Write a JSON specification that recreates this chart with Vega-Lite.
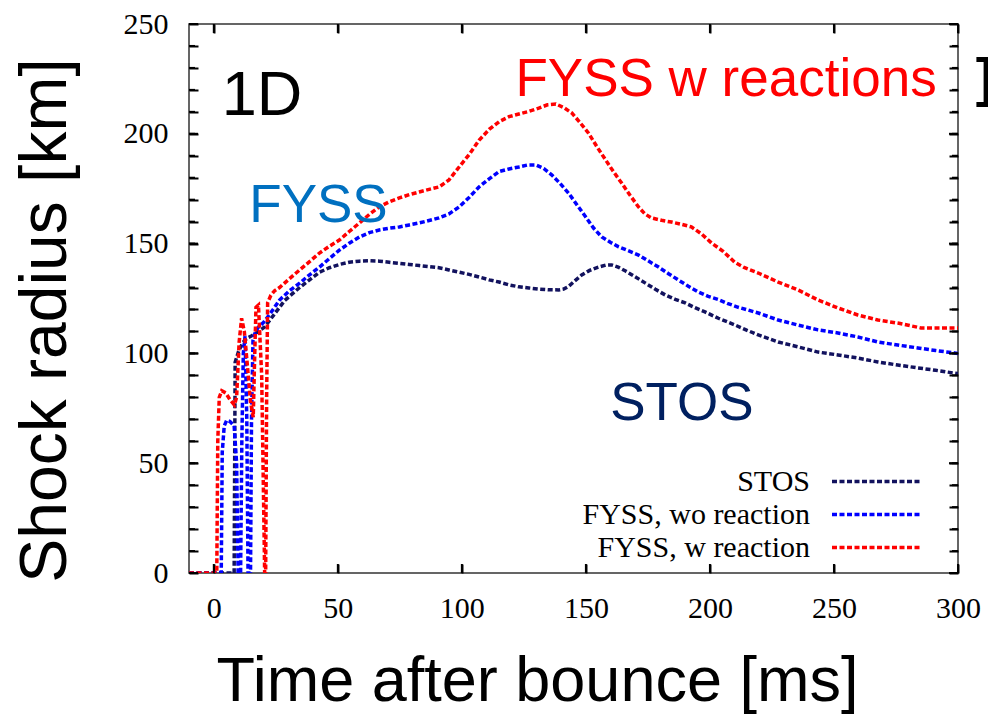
{
  "$schema": "https://vega.github.io/schema/vega-lite/v6.json",
  "width": 769,
  "height": 549,
  "autosize": {"type": "none"},
  "padding": {"left": 189, "top": 24, "right": 30, "bottom": 153},
  "background": "white",
  "config": {
    "view": {"stroke": "#333333", "strokeWidth": 1.5},
    "axis": {"domain": false, "grid": false, "ticks": true, "tickColor": "#000000", "tickWidth": 2, "labelFont": "Liberation Serif", "labelFontSize": 30, "labelColor": "#000000", "titleFont": "Liberation Sans", "titleFontWeight": "normal", "titleColor": "#000000", "zindex": 1}
  },
  "datasets": {
    "yt": [{"v":0},{"v":10},{"v":20},{"v":30},{"v":40},{"v":50},{"v":60},{"v":70},{"v":80},{"v":90},{"v":100},{"v":110},{"v":120},{"v":130},{"v":140},{"v":150},{"v":160},{"v":170},{"v":180},{"v":190},{"v":200},{"v":210},{"v":220},{"v":230},{"v":240},{"v":250}],
    "ymaj": [{"v":0},{"v":50},{"v":100},{"v":150},{"v":200},{"v":250}],
    "xmaj": [{"v":0},{"v":50},{"v":100},{"v":150},{"v":200},{"v":250},{"v":300}]
  },
  "resolve": {"axis": {"x": "independent", "y": "independent"}},
  "layer": [
    {
      "data": {"values": [
        {"s":"STOS","t":-10,"r":0},{"s":"STOS","t":8.2,"r":0},{"s":"STOS","t":8.6,"r":96},{"s":"STOS","t":10,"r":101},{"s":"STOS","t":11.7,"r":105},{"s":"STOS","t":13.5,"r":107},{"s":"STOS","t":15.3,"r":108},{"s":"STOS","t":18,"r":110},{"s":"STOS","t":20.5,"r":112},{"s":"STOS","t":22.5,"r":115},{"s":"STOS","t":24.5,"r":118},{"s":"STOS","t":26.5,"r":121},{"s":"STOS","t":28.5,"r":124},{"s":"STOS","t":30.5,"r":126},{"s":"STOS","t":34.6,"r":130},{"s":"STOS","t":38.6,"r":133.5},{"s":"STOS","t":42.6,"r":137},{"s":"STOS","t":46.6,"r":139},{"s":"STOS","t":50.6,"r":140.5},{"s":"STOS","t":54.6,"r":141.5},{"s":"STOS","t":58.7,"r":142},{"s":"STOS","t":62.7,"r":142.2},{"s":"STOS","t":66.7,"r":142},{"s":"STOS","t":70.7,"r":141.5},{"s":"STOS","t":74.8,"r":141},{"s":"STOS","t":78.8,"r":140.5},{"s":"STOS","t":82.8,"r":140},{"s":"STOS","t":86.8,"r":139.5},{"s":"STOS","t":90.8,"r":139},{"s":"STOS","t":94.8,"r":138},{"s":"STOS","t":98.9,"r":137},{"s":"STOS","t":102.9,"r":136},{"s":"STOS","t":106.9,"r":134.8},{"s":"STOS","t":111,"r":133.5},{"s":"STOS","t":115,"r":132.5},{"s":"STOS","t":119,"r":131.2},{"s":"STOS","t":123,"r":130.3},{"s":"STOS","t":127,"r":129.8},{"s":"STOS","t":131,"r":129.3},{"s":"STOS","t":135,"r":129},{"s":"STOS","t":139,"r":128.9},{"s":"STOS","t":141,"r":129.3},{"s":"STOS","t":143,"r":130.5},{"s":"STOS","t":145.5,"r":133},{"s":"STOS","t":148.3,"r":135.7},{"s":"STOS","t":151.5,"r":137.8},{"s":"STOS","t":155,"r":139.3},{"s":"STOS","t":158,"r":140.2},{"s":"STOS","t":160.4,"r":140.3},{"s":"STOS","t":163,"r":139.3},{"s":"STOS","t":166,"r":137.5},{"s":"STOS","t":170,"r":134.8},{"s":"STOS","t":174,"r":132},{"s":"STOS","t":178,"r":129.2},{"s":"STOS","t":182,"r":126.6},{"s":"STOS","t":186,"r":124.6},{"s":"STOS","t":190,"r":123},{"s":"STOS","t":194,"r":120.8},{"s":"STOS","t":198,"r":118.9},{"s":"STOS","t":203.4,"r":116},{"s":"STOS","t":210,"r":113},{"s":"STOS","t":215,"r":110.5},{"s":"STOS","t":219.5,"r":108.4},{"s":"STOS","t":227.5,"r":105.2},{"s":"STOS","t":235.5,"r":103},{"s":"STOS","t":243.6,"r":100.6},{"s":"STOS","t":251.6,"r":99.3},{"s":"STOS","t":259.6,"r":97.9},{"s":"STOS","t":267.7,"r":96.1},{"s":"STOS","t":275.7,"r":94.7},{"s":"STOS","t":283.8,"r":93.4},{"s":"STOS","t":291,"r":92.3},{"s":"STOS","t":298.6,"r":91},{"s":"STOS","t":300,"r":90.8},
        {"s":"FYSS, wo reaction","t":-10,"r":0},{"s":"FYSS, wo reaction","t":3.0,"r":0},{"s":"FYSS, wo reaction","t":3.4,"r":55},{"s":"FYSS, wo reaction","t":4.2,"r":67},{"s":"FYSS, wo reaction","t":5.2,"r":69.5},{"s":"FYSS, wo reaction","t":6.5,"r":69},{"s":"FYSS, wo reaction","t":8.2,"r":67},{"s":"FYSS, wo reaction","t":9.2,"r":50},{"s":"FYSS, wo reaction","t":9.8,"r":0},{"s":"FYSS, wo reaction","t":10.8,"r":0},{"s":"FYSS, wo reaction","t":11.3,"r":60},{"s":"FYSS, wo reaction","t":11.9,"r":100},{"s":"FYSS, wo reaction","t":12.6,"r":108},{"s":"FYSS, wo reaction","t":13.3,"r":70},{"s":"FYSS, wo reaction","t":13.8,"r":0},{"s":"FYSS, wo reaction","t":14.8,"r":0},{"s":"FYSS, wo reaction","t":15.2,"r":70},{"s":"FYSS, wo reaction","t":15.8,"r":106},{"s":"FYSS, wo reaction","t":16.8,"r":110},{"s":"FYSS, wo reaction","t":18,"r":112},{"s":"FYSS, wo reaction","t":20,"r":114},{"s":"FYSS, wo reaction","t":22,"r":117},{"s":"FYSS, wo reaction","t":24.5,"r":121},{"s":"FYSS, wo reaction","t":26.5,"r":124.3},{"s":"FYSS, wo reaction","t":30.5,"r":128.5},{"s":"FYSS, wo reaction","t":34.6,"r":132},{"s":"FYSS, wo reaction","t":38.6,"r":135.8},{"s":"FYSS, wo reaction","t":42.6,"r":139.3},{"s":"FYSS, wo reaction","t":46.6,"r":143.2},{"s":"FYSS, wo reaction","t":50.6,"r":147},{"s":"FYSS, wo reaction","t":54.6,"r":150.2},{"s":"FYSS, wo reaction","t":58.7,"r":153},{"s":"FYSS, wo reaction","t":62.7,"r":155},{"s":"FYSS, wo reaction","t":66.7,"r":156.2},{"s":"FYSS, wo reaction","t":70.7,"r":157},{"s":"FYSS, wo reaction","t":74.8,"r":157.6},{"s":"FYSS, wo reaction","t":78.8,"r":158.5},{"s":"FYSS, wo reaction","t":82.8,"r":159.4},{"s":"FYSS, wo reaction","t":86.8,"r":160.5},{"s":"FYSS, wo reaction","t":90.8,"r":161.7},{"s":"FYSS, wo reaction","t":94.8,"r":163.5},{"s":"FYSS, wo reaction","t":98.9,"r":166.7},{"s":"FYSS, wo reaction","t":102.9,"r":171},{"s":"FYSS, wo reaction","t":106.9,"r":175.8},{"s":"FYSS, wo reaction","t":111,"r":179.5},{"s":"FYSS, wo reaction","t":115,"r":182.8},{"s":"FYSS, wo reaction","t":119,"r":184},{"s":"FYSS, wo reaction","t":123,"r":184.9},{"s":"FYSS, wo reaction","t":126.5,"r":185.8},{"s":"FYSS, wo reaction","t":129.8,"r":185.8},{"s":"FYSS, wo reaction","t":133,"r":184.2},{"s":"FYSS, wo reaction","t":136.3,"r":181.2},{"s":"FYSS, wo reaction","t":139.5,"r":177.5},{"s":"FYSS, wo reaction","t":143,"r":173},{"s":"FYSS, wo reaction","t":146.5,"r":167.5},{"s":"FYSS, wo reaction","t":150,"r":162},{"s":"FYSS, wo reaction","t":153,"r":157.2},{"s":"FYSS, wo reaction","t":156.4,"r":153},{"s":"FYSS, wo reaction","t":160,"r":150.5},{"s":"FYSS, wo reaction","t":163.2,"r":148.5},{"s":"FYSS, wo reaction","t":167,"r":146.8},{"s":"FYSS, wo reaction","t":171.2,"r":144.8},{"s":"FYSS, wo reaction","t":175,"r":142.2},{"s":"FYSS, wo reaction","t":179.3,"r":139.3},{"s":"FYSS, wo reaction","t":183.3,"r":136.3},{"s":"FYSS, wo reaction","t":187.3,"r":133.4},{"s":"FYSS, wo reaction","t":191.3,"r":130.6},{"s":"FYSS, wo reaction","t":195.3,"r":128},{"s":"FYSS, wo reaction","t":199.3,"r":126},{"s":"FYSS, wo reaction","t":203.4,"r":124.5},{"s":"FYSS, wo reaction","t":207,"r":122.8},{"s":"FYSS, wo reaction","t":211.4,"r":121},{"s":"FYSS, wo reaction","t":215.5,"r":119.7},{"s":"FYSS, wo reaction","t":219.5,"r":118.4},{"s":"FYSS, wo reaction","t":227.5,"r":115.2},{"s":"FYSS, wo reaction","t":235.5,"r":112.9},{"s":"FYSS, wo reaction","t":243.6,"r":110.7},{"s":"FYSS, wo reaction","t":251.6,"r":109.3},{"s":"FYSS, wo reaction","t":259.6,"r":107.5},{"s":"FYSS, wo reaction","t":267.7,"r":105.2},{"s":"FYSS, wo reaction","t":275.7,"r":103.8},{"s":"FYSS, wo reaction","t":283.8,"r":102.5},{"s":"FYSS, wo reaction","t":291,"r":101.3},{"s":"FYSS, wo reaction","t":298.6,"r":100.2},{"s":"FYSS, wo reaction","t":300,"r":100},
        {"s":"FYSS, w  reaction","t":-10,"r":0},{"s":"FYSS, w  reaction","t":1.2,"r":0},{"s":"FYSS, w  reaction","t":1.6,"r":60},{"s":"FYSS, w  reaction","t":2.2,"r":80},{"s":"FYSS, w  reaction","t":3.2,"r":83},{"s":"FYSS, w  reaction","t":4.8,"r":82},{"s":"FYSS, w  reaction","t":6.5,"r":79},{"s":"FYSS, w  reaction","t":8.3,"r":76.5},{"s":"FYSS, w  reaction","t":9.2,"r":80},{"s":"FYSS, w  reaction","t":10.2,"r":105},{"s":"FYSS, w  reaction","t":11.2,"r":116},{"s":"FYSS, w  reaction","t":12.3,"r":110},{"s":"FYSS, w  reaction","t":13.5,"r":95},{"s":"FYSS, w  reaction","t":14.8,"r":78},{"s":"FYSS, w  reaction","t":15.9,"r":71},{"s":"FYSS, w  reaction","t":16.4,"r":95},{"s":"FYSS, w  reaction","t":17.0,"r":121},{"s":"FYSS, w  reaction","t":18.0,"r":122},{"s":"FYSS, w  reaction","t":19.3,"r":90},{"s":"FYSS, w  reaction","t":20.1,"r":30},{"s":"FYSS, w  reaction","t":20.5,"r":0},{"s":"FYSS, w  reaction","t":20.9,"r":0},{"s":"FYSS, w  reaction","t":21.3,"r":80},{"s":"FYSS, w  reaction","t":21.7,"r":123},{"s":"FYSS, w  reaction","t":23,"r":126.5},{"s":"FYSS, w  reaction","t":24.5,"r":128.5},{"s":"FYSS, w  reaction","t":26.5,"r":130},{"s":"FYSS, w  reaction","t":30.5,"r":134},{"s":"FYSS, w  reaction","t":34.6,"r":138},{"s":"FYSS, w  reaction","t":38.6,"r":141.8},{"s":"FYSS, w  reaction","t":42.6,"r":145.7},{"s":"FYSS, w  reaction","t":46.6,"r":148.8},{"s":"FYSS, w  reaction","t":50.6,"r":151.6},{"s":"FYSS, w  reaction","t":54.6,"r":155.5},{"s":"FYSS, w  reaction","t":58.7,"r":159.4},{"s":"FYSS, w  reaction","t":62.7,"r":163.3},{"s":"FYSS, w  reaction","t":66.7,"r":166.7},{"s":"FYSS, w  reaction","t":70.7,"r":169},{"s":"FYSS, w  reaction","t":74.8,"r":170.8},{"s":"FYSS, w  reaction","t":78.8,"r":172.3},{"s":"FYSS, w  reaction","t":82.8,"r":173.5},{"s":"FYSS, w  reaction","t":86.8,"r":174.7},{"s":"FYSS, w  reaction","t":90.8,"r":175.8},{"s":"FYSS, w  reaction","t":94.8,"r":179},{"s":"FYSS, w  reaction","t":98.9,"r":184.9},{"s":"FYSS, w  reaction","t":102.9,"r":190.5},{"s":"FYSS, w  reaction","t":106.9,"r":197},{"s":"FYSS, w  reaction","t":111,"r":202},{"s":"FYSS, w  reaction","t":115,"r":205.5},{"s":"FYSS, w  reaction","t":119,"r":207.8},{"s":"FYSS, w  reaction","t":123,"r":209},{"s":"FYSS, w  reaction","t":127,"r":210.2},{"s":"FYSS, w  reaction","t":131,"r":211.7},{"s":"FYSS, w  reaction","t":134.5,"r":213.2},{"s":"FYSS, w  reaction","t":137.9,"r":213.6},{"s":"FYSS, w  reaction","t":141,"r":212},{"s":"FYSS, w  reaction","t":144.3,"r":209.5},{"s":"FYSS, w  reaction","t":147.5,"r":205.3},{"s":"FYSS, w  reaction","t":151,"r":200.4},{"s":"FYSS, w  reaction","t":154.5,"r":194},{"s":"FYSS, w  reaction","t":158,"r":188},{"s":"FYSS, w  reaction","t":161.2,"r":182.6},{"s":"FYSS, w  reaction","t":164.4,"r":177.6},{"s":"FYSS, w  reaction","t":167.8,"r":172},{"s":"FYSS, w  reaction","t":171.2,"r":166.7},{"s":"FYSS, w  reaction","t":173.8,"r":163.5},{"s":"FYSS, w  reaction","t":176.4,"r":161.7},{"s":"FYSS, w  reaction","t":180.5,"r":160.6},{"s":"FYSS, w  reaction","t":184.5,"r":159.8},{"s":"FYSS, w  reaction","t":188.5,"r":158.8},{"s":"FYSS, w  reaction","t":192.5,"r":157.6},{"s":"FYSS, w  reaction","t":196.5,"r":154.5},{"s":"FYSS, w  reaction","t":200.6,"r":150.3},{"s":"FYSS, w  reaction","t":205.3,"r":146.5},{"s":"FYSS, w  reaction","t":210,"r":141.5},{"s":"FYSS, w  reaction","t":214,"r":139},{"s":"FYSS, w  reaction","t":219.5,"r":136.6},{"s":"FYSS, w  reaction","t":227.5,"r":132.5},{"s":"FYSS, w  reaction","t":235.5,"r":128.9},{"s":"FYSS, w  reaction","t":243.6,"r":124.3},{"s":"FYSS, w  reaction","t":251.6,"r":120.7},{"s":"FYSS, w  reaction","t":259.6,"r":117.5},{"s":"FYSS, w  reaction","t":267.7,"r":115.2},{"s":"FYSS, w  reaction","t":275.7,"r":113.8},{"s":"FYSS, w  reaction","t":280,"r":112.8},{"s":"FYSS, w  reaction","t":285,"r":111.6},{"s":"FYSS, w  reaction","t":292,"r":111.6},{"s":"FYSS, w  reaction","t":300,"r":111.6}
      ]},
      "mark": {"type": "line", "strokeWidth": 3.5, "strokeDash": [5, 2.5], "clip": true},
      "encoding": {
        "x": {"field": "t", "type": "quantitative", "scale": {"domain": [-10, 300], "nice": false, "zero": false},
          "axis": {"orient": "bottom", "offset": -9, "values": [0, 50, 100, 150, 200, 250, 300], "tickSize": 9, "labelPadding": 20, "labelBaseline": "top", "labelFlush": false,
            "title": "Time after bounce [ms]", "titleFontSize": 63, "titleX": 348, "titleY": 136, "titleBaseline": "alphabetic", "titleAlign": "center"}},
        "y": {"field": "r", "type": "quantitative", "scale": {"domain": [0, 250], "nice": false},
          "axis": {"orient": "left", "offset": -9, "values": [0,10,20,30,40,50,60,70,80,90,100,110,120,130,140,150,160,170,180,190,200,210,220,230,240,250], "tickSize": 9, "labelPadding": 21, "labelFlush": false,
            "labelExpr": "datum.value % 50 === 0 ? datum.label : ''",
            "title": "Shock radius [km]", "titleFontSize": 66, "titleAngle": 270, "titleX": -153, "titleY": 296, "titleBaseline": "middle", "titleAlign": "center",
            "encode": {"ticks": {"update": {"x": {"value": -9}, "x2": {"signal": "datum.value % 50 === 0 ? 0 : -3"}}}}}},
        "color": {"field": "s", "type": "nominal",
          "scale": {"domain": ["STOS", "FYSS, wo reaction", "FYSS, w  reaction"], "range": ["#12125e", "#0000ff", "#ff0000"]},
          "legend": {"orient": "none", "legendX": 643, "legendY": 441, "title": null, "padding": 0, "symbolType": "stroke", "symbolSize": 400, "symbolStrokeWidth": 3.5, "symbolDash": [5, 2.5], "labelFont": "Liberation Serif", "labelFontSize": 30, "labelColor": "#000000", "rowPadding": 0, "clipHeight": 33, "labelLimit": 500,
            "encode": {
              "entries": {"update": {"width": {"value": 92}, "height": {"value": 33}}},
              "symbols": {"update": {"size": {"value": 7744}, "x": {"value": 44}}},
              "labels": {"update": {"x": {"value": -22}, "align": {"value": "right"}}}}}}
      }
    },
    {
      "data": {"name": "yt"},
      "mark": {"type": "rule", "color": "#000000", "strokeWidth": 2},
      "encoding": {
        "y": {"field": "v", "type": "quantitative", "axis": null},
        "x": {"datum": -10, "type": "quantitative", "axis": null},
        "x2": {"datum": -7.58}
      }
    },
    {
      "data": {"name": "ymaj"},
      "mark": {"type": "rule", "color": "#000000", "strokeWidth": 2},
      "encoding": {
        "y": {"field": "v", "type": "quantitative", "axis": null},
        "x": {"datum": -10, "type": "quantitative", "axis": null},
        "x2": {"datum": -6.37}
      }
    },
    {
      "data": {"name": "yt"},
      "mark": {"type": "rule", "color": "#000000", "strokeWidth": 2},
      "encoding": {
        "y": {"field": "v", "type": "quantitative", "axis": null},
        "x": {"datum": 300, "type": "quantitative", "axis": null},
        "x2": {"datum": 297.58}
      }
    },
    {
      "data": {"name": "ymaj"},
      "mark": {"type": "rule", "color": "#000000", "strokeWidth": 2},
      "encoding": {
        "y": {"field": "v", "type": "quantitative", "axis": null},
        "x": {"datum": 300, "type": "quantitative", "axis": null},
        "x2": {"datum": 296.37}
      }
    },
    {
      "data": {"name": "xmaj"},
      "mark": {"type": "rule", "color": "#000000", "strokeWidth": 2},
      "encoding": {
        "x": {"field": "v", "type": "quantitative", "axis": null},
        "y": {"datum": 0, "type": "quantitative", "axis": null},
        "y2": {"datum": 4.1}
      }
    },
    {
      "data": {"name": "xmaj"},
      "mark": {"type": "rule", "color": "#000000", "strokeWidth": 2},
      "encoding": {
        "x": {"field": "v", "type": "quantitative", "axis": null},
        "y": {"datum": 250, "type": "quantitative", "axis": null},
        "y2": {"datum": 245.9}
      }
    },
    {
      "data": {"values": [{"x": 3.2, "y": 208.6, "label": "1D"}]},
      "mark": {"type": "text", "font": "Liberation Sans", "fontSize": 63, "color": "#000000", "align": "left", "baseline": "alphabetic"},
      "encoding": {
        "x": {"field": "x", "type": "quantitative", "scale": {"domain": [-10, 300], "nice": false, "zero": false},
          "axis": {"orient": "top", "offset": -9, "values": [0, 50, 100, 150, 200, 250, 300], "labels": false, "tickSize": 9, "title": null}},
        "y": {"field": "y", "type": "quantitative", "scale": {"domain": [0, 250], "nice": false},
          "axis": {"orient": "right", "offset": -9, "values": [0,10,20,30,40,50,60,70,80,90,100,110,120,130,140,150,160,170,180,190,200,210,220,230,240,250], "labels": false, "tickSize": 9, "title": null,
            "encode": {"ticks": {"update": {"x": {"value": 9}, "x2": {"signal": "datum.value % 50 === 0 ? 0 : 3"}}}}}},
        "text": {"field": "label"}
      }
    },
    {
      "data": {"values": [{"x": 14.3, "y": 159.8, "label": "FYSS"}]},
      "mark": {"type": "text", "font": "Liberation Sans", "fontSize": 53, "color": "#0070C0", "align": "left", "baseline": "alphabetic"},
      "encoding": {
        "x": {"field": "x", "type": "quantitative", "axis": null},
        "y": {"field": "y", "type": "quantitative", "axis": null},
        "text": {"field": "label"}
      }
    },
    {
      "data": {"values": [{"x": 121.6, "y": 217.2, "label": "FYSS w reactions"}]},
      "mark": {"type": "text", "font": "Liberation Sans", "fontSize": 53, "color": "#ff0000", "align": "left", "baseline": "alphabetic"},
      "encoding": {
        "x": {"field": "x", "type": "quantitative", "axis": null},
        "y": {"field": "y", "type": "quantitative", "axis": null},
        "text": {"field": "label"}
      }
    },
    {
      "data": {"values": [{"x": 159.8, "y": 69.7, "label": "STOS"}]},
      "mark": {"type": "text", "font": "Liberation Sans", "fontSize": 53, "color": "#002060", "align": "left", "baseline": "alphabetic"},
      "encoding": {
        "x": {"field": "x", "type": "quantitative", "axis": null},
        "y": {"field": "y", "type": "quantitative", "axis": null},
        "text": {"field": "label"}
      }
    },
    {
      "data": {"values": [{"x": 307.2, "y": 217.2, "label": "]"}]},
      "mark": {"type": "text", "font": "Liberation Sans", "fontSize": 53, "fontWeight": "bold", "color": "#000000", "align": "left", "baseline": "alphabetic"},
      "encoding": {
        "x": {"field": "x", "type": "quantitative", "axis": null},
        "y": {"field": "y", "type": "quantitative", "axis": null},
        "text": {"field": "label"}
      }
    }
  ]
}
